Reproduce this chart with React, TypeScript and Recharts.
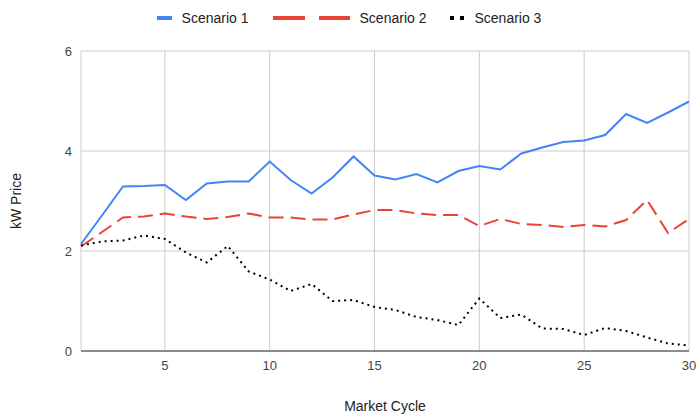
import React from 'react';
import { LineChart, Line, XAxis, YAxis, CartesianGrid } from 'recharts';

document.body.style.margin = '0';

// market cycles 1..30
const cycles = [
  1, 2, 3, 4, 5, 6, 7, 8, 9, 10, 11, 12, 13, 14, 15,
  16, 17, 18, 19, 20, 21, 22, 23, 24, 25, 26, 27, 28, 29, 30,
];

const scenario1 = [
  2.14, 2.71, 3.29, 3.30, 3.32, 3.02, 3.35, 3.39, 3.39, 3.79,
  3.42, 3.15, 3.47, 3.89, 3.51, 3.43, 3.54, 3.37, 3.60, 3.70,
  3.63, 3.95, 4.07, 4.18, 4.21, 4.32, 4.74, 4.56, 4.77, 4.99,
];
const scenario2 = [
  2.09, 2.38, 2.67, 2.69, 2.75, 2.69, 2.64, 2.68, 2.75, 2.67,
  2.67, 2.63, 2.63, 2.73, 2.82, 2.82, 2.75, 2.72, 2.72, 2.50,
  2.64, 2.54, 2.52, 2.48, 2.52, 2.49, 2.62, 3.02, 2.36, 2.64,
];
const scenario3 = [
  2.11, 2.19, 2.21, 2.31, 2.24, 1.97, 1.77, 2.10, 1.59, 1.43,
  1.20, 1.34, 1.00, 1.02, 0.88, 0.82, 0.68, 0.62, 0.52, 1.05,
  0.66, 0.73, 0.45, 0.44, 0.32, 0.46, 0.40, 0.27, 0.15, 0.11,
];

const seriesNames = ['Scenario 1', 'Scenario 2', 'Scenario 3'];
const xTicks = [5, 10, 15, 20, 25, 30];
const yTicks = [0, 2, 4, 6];

const data = cycles.map((c, i) => ({
  cycle: c,
  s1: scenario1[i],
  s2: scenario2[i],
  s3: scenario3[i],
}));

const FONT = '"Liberation Sans", Arial, sans-serif';

function LegendSample({ idx }: { idx: number }) {
  if (idx === 0) {
    return (
      <svg width={15} height={6}>
        <rect x={0} y={1} width={15} height={4} fill="#4285F4" />
      </svg>
    );
  }
  if (idx === 1) {
    return (
      <svg width={77} height={6}>
        <rect x={0} y={1} width={32} height={4} fill="#EA4335" />
        <rect x={46} y={1} width={31} height={4} fill="#EA4335" />
      </svg>
    );
  }
  return (
    <svg width={14} height={6}>
      <rect x={0} y={1} width={4} height={4} fill="#000" />
      <rect x={10} y={1} width={4} height={4} fill="#000" />
    </svg>
  );
}

export default function App() {
  return (
    <div style={{ position: 'relative', width: 698, height: 414, background: '#fff', fontFamily: FONT }}>
      {/* legend */}
      <div
        style={{
          position: 'absolute',
          top: 9,
          left: 0,
          width: 698,
          display: 'flex',
          justifyContent: 'center',
          gap: 24,
          fontSize: 14,
          color: '#222',
          lineHeight: '18px',
        }}
      >
        {seriesNames.map((name, i) => (
          <div key={name} style={{ display: 'flex', alignItems: 'center', gap: 10 }}>
            <LegendSample idx={i} />
            <span>{name}</span>
          </div>
        ))}
      </div>

      <LineChart
        width={698}
        height={414}
        data={data}
        margin={{ top: 51, right: 9, bottom: 0, left: 0 }}
        style={{ position: 'absolute', top: 0, left: 0 }}
      >
        <CartesianGrid stroke="#cccccc" strokeWidth={1} />
        <XAxis
          dataKey="cycle"
          type="number"
          domain={[1, 30]}
          ticks={xTicks}
          height={63}
          tickSize={0}
          tickMargin={10}
          axisLine={{ stroke: '#333', strokeWidth: 1 }}
          tick={{ fontSize: 13, fill: '#444', fontFamily: FONT }}
          label={{ value: 'Market Cycle', position: 'insideBottom', offset: 3, fontSize: 14, fill: '#222', fontFamily: FONT }}
        />
        <YAxis
          type="number"
          domain={[0, 6]}
          ticks={yTicks}
          width={81}
          tickSize={0}
          tickMargin={9}
          axisLine={false}
          tick={{ fontSize: 13, fill: '#444', fontFamily: FONT }}
          label={{
            value: 'kW Price',
            angle: -90,
            position: 'insideLeft',
            offset: 16,
            style: { textAnchor: 'middle', fontSize: 14, fill: '#222', fontFamily: FONT },
          }}
        />
        <Line dataKey="s1" name={seriesNames[0]} stroke="#4285F4" strokeWidth={2} dot={false} isAnimationActive={false} type="linear" />
        <Line dataKey="s2" name={seriesNames[1]} stroke="#EA4335" strokeWidth={2} strokeDasharray="15 7" dot={false} isAnimationActive={false} type="linear" />
        <Line dataKey="s3" name={seriesNames[2]} stroke="#000" strokeWidth={2} strokeDasharray="2 4" dot={false} isAnimationActive={false} type="linear" />
      </LineChart>
    </div>
  );
}
